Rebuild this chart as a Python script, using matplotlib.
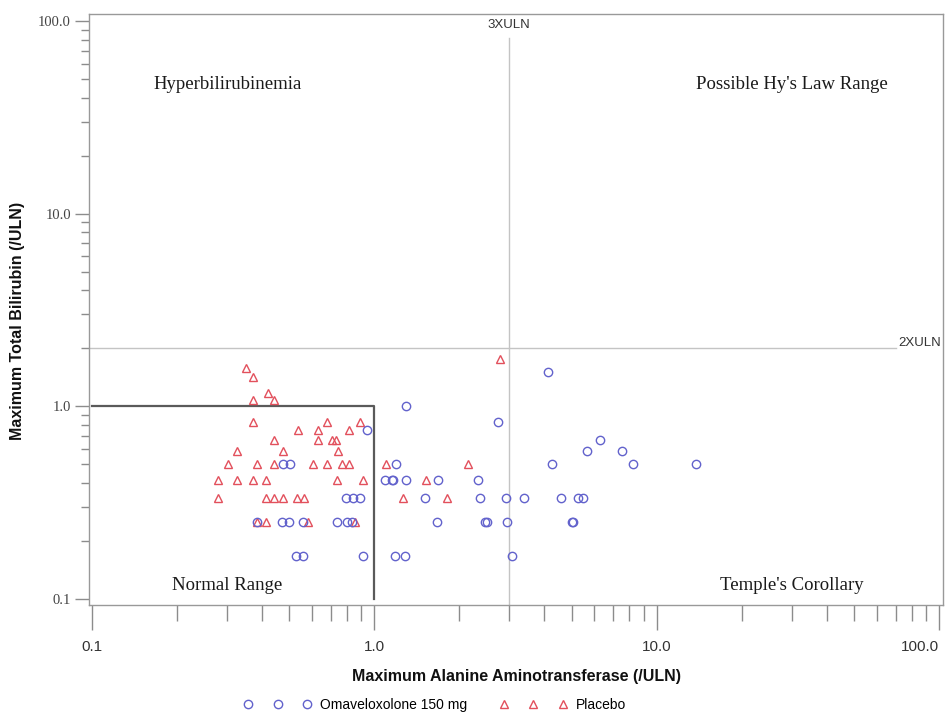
import matplotlib
matplotlib.use("Agg")
import matplotlib.pyplot as plt
from matplotlib.lines import Line2D
from matplotlib.ticker import FixedLocator, FixedFormatter, LogLocator, NullFormatter
import matplotlib.transforms as mtransforms

# ---------------- data ----------------
omav_alt = [0.944, 0.4735, 0.5025, 0.793, 0.842, 0.889, 0.383, 0.4695, 0.4995, 0.560,
            0.736, 0.798, 0.831, 0.528, 0.560, 0.913, 1.29, 2.75, 1.19, 1.09,
            1.15, 1.167, 1.29, 1.684, 2.33, 1.51, 2.365, 2.92, 3.385, 1.662,
            2.464, 2.499, 2.955, 1.183, 1.284, 3.08, 4.13, 6.29, 5.67, 7.55,
            4.245, 8.26, 13.73, 4.57, 5.27, 5.465, 4.995, 5.04]
omav_bili = [0.75, 0.5, 0.5, 0.333, 0.333, 0.333, 0.25, 0.25, 0.25, 0.25,
             0.25, 0.25, 0.25, 0.167, 0.167, 0.167, 1.0, 0.833, 0.5, 0.417,
             0.417, 0.417, 0.417, 0.417, 0.417, 0.333, 0.333, 0.333, 0.333, 0.25,
             0.25, 0.25, 0.25, 0.167, 0.167, 0.167, 1.5, 0.667, 0.583, 0.583,
             0.5, 0.5, 0.5, 0.333, 0.333, 0.333, 0.25, 0.25]

plac_alt = [0.350, 0.3725, 0.419, 0.3725, 0.442, 0.3725, 0.678, 0.889, 0.5375, 0.630,
            0.815, 0.442, 0.630, 0.706, 0.730, 0.325, 0.4735, 0.745, 0.302, 0.383,
            0.442, 0.608, 0.678, 0.766, 0.815, 1.095, 2.15, 0.280, 0.325, 0.371,
            0.413, 0.736, 0.908, 1.52, 0.280, 0.413, 0.441, 0.4735, 0.531, 0.565,
            1.26, 1.80, 0.383, 0.413, 0.583, 0.857, 2.78]
plac_bili = [1.583, 1.417, 1.167, 1.083, 1.083, 0.833, 0.833, 0.833, 0.75, 0.75,
             0.75, 0.667, 0.667, 0.667, 0.667, 0.583, 0.583, 0.583, 0.5, 0.5,
             0.5, 0.5, 0.5, 0.5, 0.5, 0.5, 0.5, 0.417, 0.417, 0.417,
             0.417, 0.417, 0.417, 0.417, 0.333, 0.333, 0.333, 0.333, 0.333, 0.333,
             0.333, 0.333, 0.25, 0.25, 0.25, 0.25, 1.75]

x_ticks = [0.1, 1.0, 10.0, 100.0]
x_tick_labels = ["0.1", "1.0", "10.0", "100.0"]
y_ticks = [0.1, 1.0, 10.0, 100.0]
y_tick_labels = ["0.1", "1.0", "10.0", "100.0"]

series_names = ["Omaveloxolone 150 mg", "Placebo"]
region_labels = ["Hyperbilirubinemia", "Possible Hy's Law Range", "Normal Range", "Temple's Corollary"]

# ---------------- style ----------------
C_OMAV = "#6262cc"
C_PLAC = "#e2505c"
GRAY = "#8c8c8c"
SANS = "Liberation Sans"
SERIF = "Liberation Serif"

fig = plt.figure(figsize=(9.48, 7.13), dpi=100)
ax = fig.add_axes([89 / 948, 1 - 605 / 713, (943 - 89) / 948, (605 - 14) / 713])
ax.set_xscale("log")
ax.set_yscale("log")
ax.set_xlim(0.09758, 103.1)
ax.set_ylim(0.0931, 108.6)

# reference lines
ax.axvline(3.0, ymin=0, ymax=(605 - 38) / 591, color="#c4c4c4", lw=1.0, zorder=1)
ax.axhline(2.0, xmin=0, xmax=(896 - 89) / 854, color="#c4c4c4", lw=1.0, zorder=1)
ax.plot([0.1, 1.0, 1.0], [1.0, 1.0, 0.1], color="#5a5a5a", lw=1.6, zorder=2)

ax.text(3.0, 95.3, "3XULN", ha="center", va="center", fontsize=9.5,
        family=SANS, color="#333333")
trans = mtransforms.blended_transform_factory(ax.transAxes, ax.transData)
ax.text(0.998, 2.13, "2XULN", ha="right", va="center", fontsize=9.5,
        family=SANS, color="#333333", transform=trans)

# region labels
ax.text(0.302, 46.5, region_labels[0], ha="center", va="center", fontsize=13.5, family=SERIF, color="#1a1a1a")
ax.text(30.0, 46.5, region_labels[1], ha="center", va="center", fontsize=13.5, family=SERIF, color="#1a1a1a")
ax.text(0.30, 0.118, region_labels[2], ha="center", va="center", fontsize=13.5, family=SERIF, color="#1a1a1a")
ax.text(30.0, 0.118, region_labels[3], ha="center", va="center", fontsize=13.5, family=SERIF, color="#1a1a1a")

# scatter
ax.plot(plac_alt, plac_bili, linestyle="none", marker="^", ms=6.2, mfc="none",
        mec=C_PLAC, mew=1.0, zorder=3)
ax.plot(omav_alt, omav_bili, linestyle="none", marker="o", ms=6.0, mfc="none",
        mec=C_OMAV, mew=1.0, zorder=4)

# axes styling
for s in ax.spines.values():
    s.set_color("#999999")
    s.set_linewidth(1.0)

ax.xaxis.set_major_locator(FixedLocator(x_ticks))
ax.xaxis.set_major_formatter(FixedFormatter(x_tick_labels))
ax.xaxis.set_minor_locator(LogLocator(base=10, subs=range(2, 10)))
ax.xaxis.set_minor_formatter(NullFormatter())
ax.yaxis.set_major_locator(FixedLocator(y_ticks))
ax.yaxis.set_major_formatter(FixedFormatter(y_tick_labels))
ax.yaxis.set_minor_locator(LogLocator(base=10, subs=range(2, 10)))
ax.yaxis.set_minor_formatter(NullFormatter())

ax.tick_params(axis="x", which="major", direction="out", length=18, width=1.0,
               color=GRAY, pad=7, labelsize=11, labelcolor="#333333")
ax.tick_params(axis="x", which="minor", direction="out", length=11.5, width=1.0, color=GRAY)
ax.tick_params(axis="y", which="major", direction="out", length=10, width=1.0,
               color=GRAY, pad=3, labelsize=10.5, labelcolor="#444444")
ax.tick_params(axis="y", which="minor", direction="out", length=5.8, width=1.0, color=GRAY)
xlabels = ax.get_xticklabels()
for lab in xlabels:
    lab.set_family(SANS)
xlabels[-1].set_horizontalalignment("right")
for lab in ax.get_yticklabels():
    lab.set_family(SERIF)

ax.set_xlabel("Maximum Alanine Aminotransferase (/ULN)", fontsize=11.5,
              fontweight="bold", family=SANS, color="#111111")
ax.xaxis.label.set_va("center")
ax.xaxis.set_label_coords(0.5, (605 - 677) / 591)
ax.set_ylabel("Maximum Total Bilirubin (/ULN)", fontsize=11.5,
              fontweight="bold", family=SANS, color="#111111")
ax.yaxis.label.set_va("center")
ax.yaxis.set_label_coords((18 - 89) / 854, (605 - 321) / 591)

# legend
handles = [Line2D([], [], linestyle="none", marker="o", ms=6.0, mfc="none", mec=C_OMAV, mew=1.0),
           Line2D([], [], linestyle="none", marker="^", ms=6.2, mfc="none", mec=C_PLAC, mew=1.0)]
fig.legend(handles, series_names, loc="center", bbox_to_anchor=(435 / 948, 1 - 705 / 713),
           ncol=2, frameon=False, numpoints=3, handlelength=4.9, handletextpad=0.63,
           columnspacing=2.3, borderpad=0.1,
           prop={"family": SANS, "size": 10})

fig.savefig("out.png", dpi=100)
